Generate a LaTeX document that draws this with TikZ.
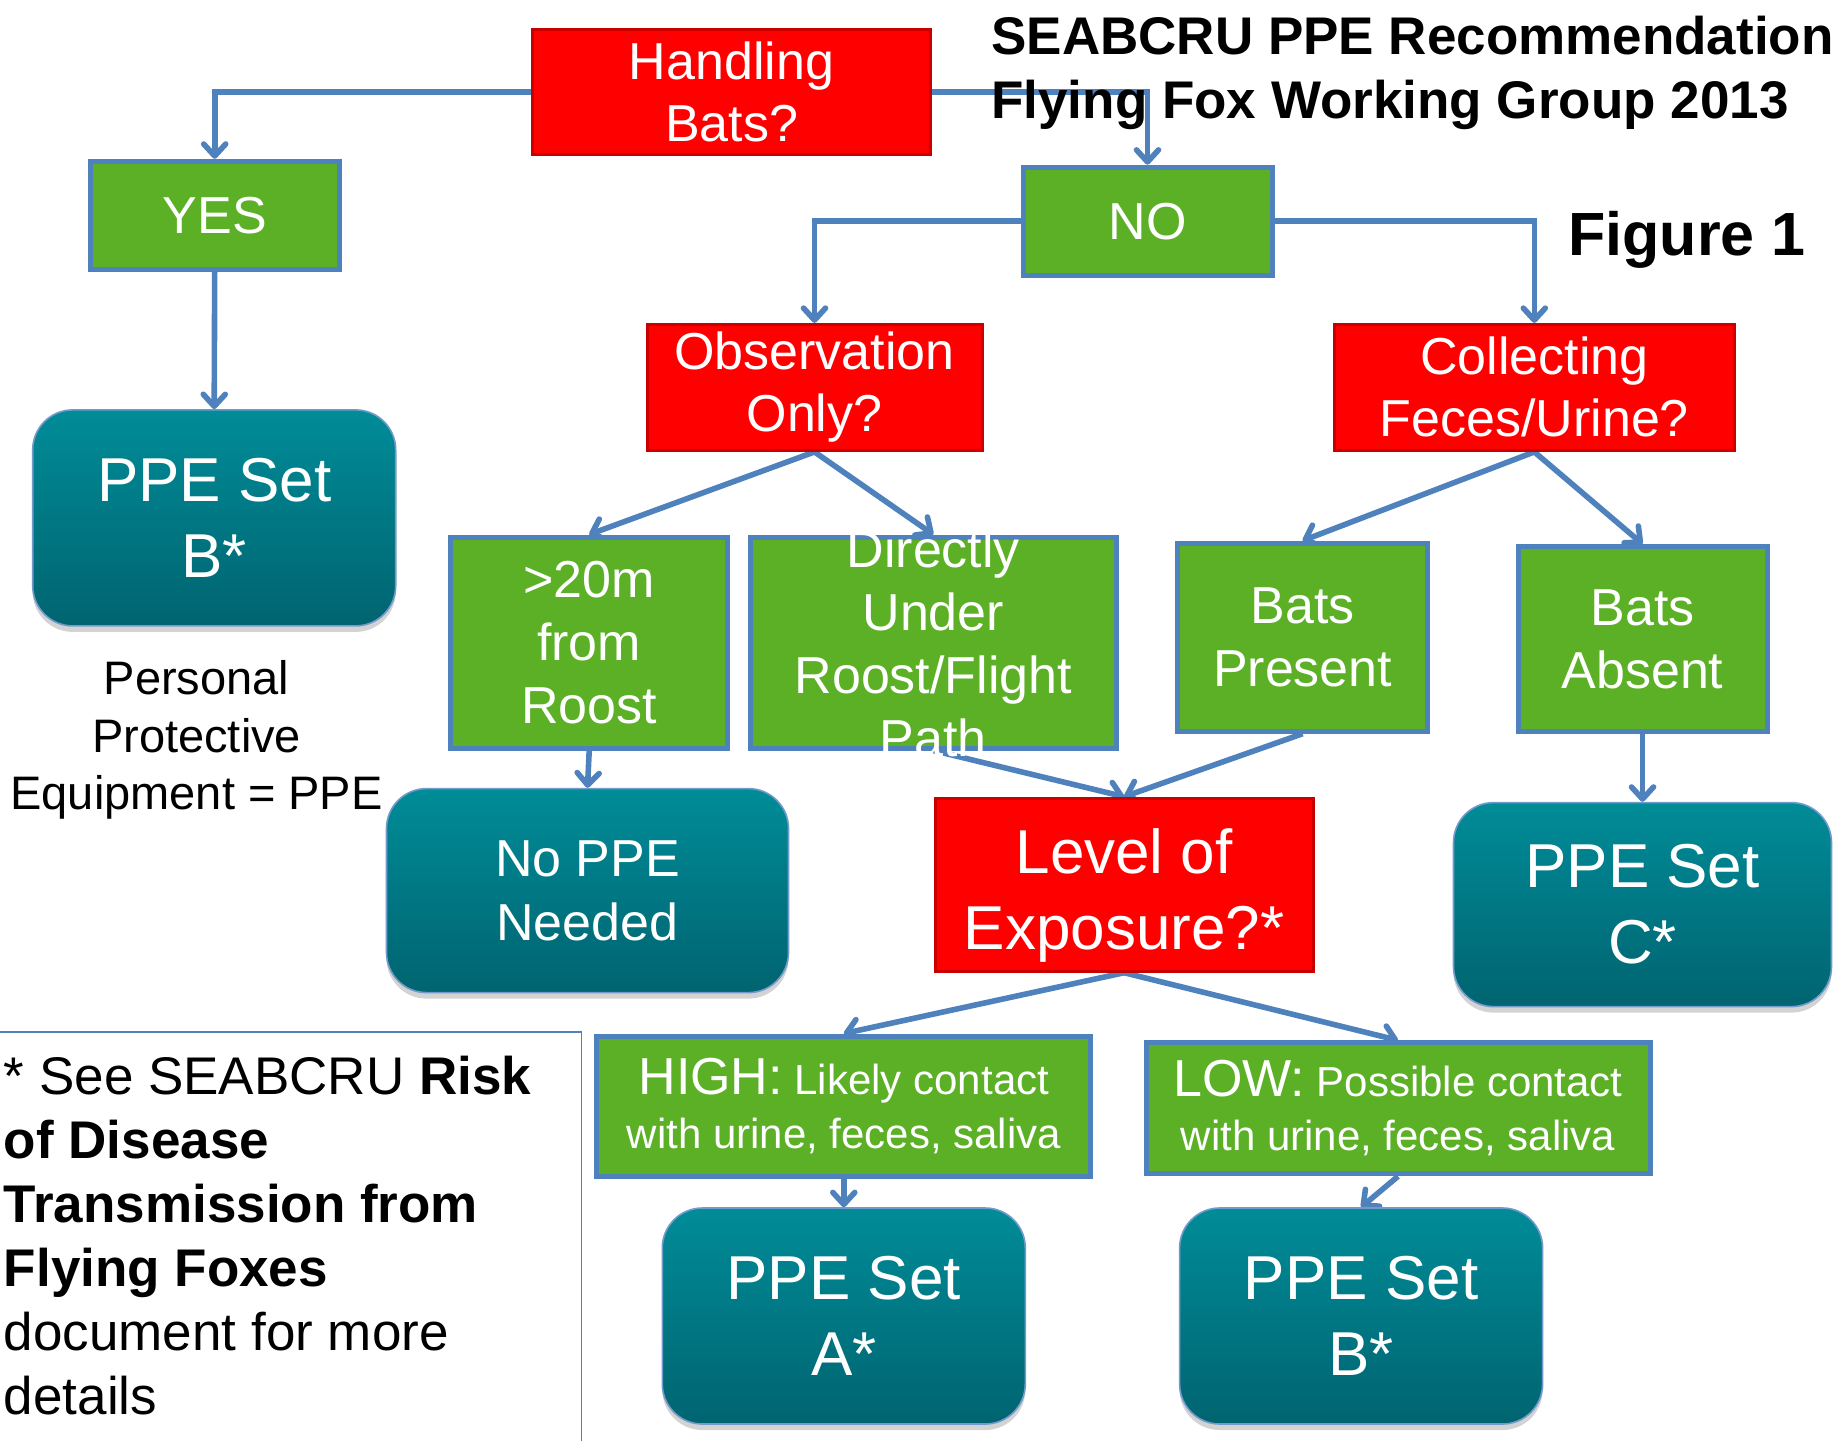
\documentclass[tikz,border=0pt]{standalone}
\usepackage{fontspec}
\setmainfont{Liberation Sans}
\usetikzlibrary{arrows.meta,shadows,backgrounds}
\definecolor{lineblue}{RGB}{79,129,189}
\definecolor{boxred}{RGB}{255,0,0}
\definecolor{edgered}{RGB}{200,0,0}
\definecolor{boxgreen}{RGB}{91,176,38}
\definecolor{tealtop}{RGB}{0,140,152}
\definecolor{tealbot}{RGB}{0,100,112}
\begin{document}
\begin{tikzpicture}[x=0.5pt,y=-0.5pt,>={Straight Barb[length=6pt,width=11pt,round]},
    question/.style={draw=edgered,line width=1.5pt,fill=boxred,text=white,align=center,inner sep=0pt,font=\fontsize{26}{31}\selectfont},
    answer/.style={draw=lineblue,line width=2.5pt,fill=boxgreen,text=white,align=center,inner sep=0pt,font=\fontsize{26}{31.5}\selectfont},
    ppeset/.style={draw=lineblue!80,line width=0.8pt,rounded corners=20pt,top color=tealtop,bottom color=tealbot,
        text=white,align=center,inner sep=0pt,font=\fontsize{31}{38}\selectfont,
        drop shadow={shadow xshift=0pt,shadow yshift=-3pt,opacity=0.35}},
    conn/.style={draw=lineblue,line width=2.8pt}]
                        \useasboundingbox (0,0) rectangle (1835,1440);
                        \node[question,minimum width=199pt,minimum height=62.5pt] (bats) at (731.5,92) {Handling\\Bats?};
                        \node[answer,minimum width=124.5pt,minimum height=54pt] (yes) at (214.7,215.3) {YES};
                        \node[answer,minimum width=124.5pt,minimum height=54pt] (no) at (1147.5,221.2) {NO};
                        \node[question,minimum width=167.5pt,minimum height=63pt] (obs) at (814.5,387.4) {Observation\\Only?};
                        \node[question,minimum width=200pt,minimum height=63pt] (coll) at (1534.3,387.4) {Collecting\\Feces/Urine?};
                        \node[ppeset,minimum width=181.5pt,minimum height=108pt] (setb) at (214.2,517.9) {PPE Set\\B*};
                        \node[answer,minimum width=138.5pt,minimum height=105.5pt] (far) at (589.2,642.5) {>20m\\from\\Roost};
                        \node[answer,minimum width=183pt,minimum height=105.5pt] (under) at (933.3,642.5)
                            {\raisebox{-9.5pt}[0pt][0pt]{\begin{tabular}{@{}c@{}}Directly\\Under\\Roost/Flight\\Path\end{tabular}}};
                        \node[answer,minimum width=125pt,minimum height=94pt] (present) at (1302.6,637.2) {Bats\\Present};
                        \node[answer,minimum width=124.5pt,minimum height=92.5pt] (absent) at (1642.5,639) {Bats\\Absent};
                        \node[ppeset,font=\fontsize{26}{32}\selectfont,minimum width=201pt,minimum height=102pt] (noppe) at (587.5,890.6) {No PPE\\Needed};
                        \node[question,font=\fontsize{31}{38}\selectfont,minimum width=189pt,minimum height=86.5pt] (level) at (1124.1,884.7)
                            {\raisebox{-12pt}[0pt][0pt]{\begin{tabular}{@{}c@{}}Level of\\Exposure?*\end{tabular}}};
                        \node[ppeset,minimum width=189pt,minimum height=102pt] (setc) at (1642.5,904.6) {PPE Set\\C*};
                        \node[answer,font=\fontsize{21}{27}\selectfont,minimum width=247pt,minimum height=70pt] (high) at (843.8,1106)
                            {{\fontsize{26}{27}\selectfont HIGH:} Likely contact\\with urine, feces, saliva};
                        \node[answer,font=\fontsize{21}{27}\selectfont,minimum width=252pt,minimum height=65.5pt] (low) at (1398,1108.3)
                            {{\fontsize{26}{27}\selectfont LOW:} Possible contact\\with urine, feces, saliva};
                        \node[ppeset,minimum width=181.5pt,minimum height=108pt] (seta) at (843.8,1316) {PPE Set\\A*};
                        \node[ppeset,minimum width=181.5pt,minimum height=108pt] (setbb) at (1361.1,1316) {PPE Set\\B*};
                        \begin{pgfonlayer}{background}
                        \draw[conn,->] (bats.west) -| (yes.north);
                        \draw[conn,->] (bats.east) -| (no.north);
                        \draw[conn,->] (no.west) -| (obs.north);
                        \draw[conn,->] (no.east) -| (coll.north);
                        \draw[conn,->] (yes.south) -- (setb.north);
                        \draw[conn,->] (obs.south) -- (far.north);
                        \draw[conn,->] (obs.south) -- (under.north);
                        \draw[conn,->] (coll.south) -- (present.north);
                        \draw[conn,->] (coll.south) -- (absent.north);
                        \draw[conn,->] (far.south) -- (noppe.north);
                        \draw[conn,->] (under.south) -- (level.north);
                        \draw[conn,->] (present.south) -- (level.north);
                        \draw[conn,->] (absent.south) -- (setc.north);
                        \draw[conn,->] (level.south) -- (high.north);
                        \draw[conn,->] (level.south) -- (low.north);
                        \draw[conn,->] (high.south) -- (seta.north);
                        \draw[conn,->] (low.south) -- (setbb.north);
                        \end{pgfonlayer}
                        \node[anchor=west,align=left,inner sep=0pt,font=\bfseries\fontsize{26.5}{32}\selectfont] (title) at (991,73)
                            {SEABCRU PPE Recommendation\\Flying Fox Working Group 2013};
                        \node[anchor=west,inner sep=0pt,font=\bfseries\fontsize{30.5}{36}\selectfont] (fig) at (1568,240) {Figure 1};
                        \node[align=center,inner sep=0pt,font=\fontsize{23.5}{28.7}\selectfont] (legend) at (196.6,740)
                            {Personal\\Protective\\Equipment = PPE};
                        \draw[lineblue,line width=0.8pt] (-5,1032) rectangle (581.6,1450);
                        \node[anchor=west,align=left,inner sep=0pt,font=\fontsize{26.5}{32}\selectfont] (note) at (3.5,1236)
                            {* See SEABCRU \textbf{Risk}\\\textbf{of Disease}\\\textbf{Transmission from}\\\textbf{Flying Foxes}\\document for more\\details};
                    \end{tikzpicture}
\end{document}
